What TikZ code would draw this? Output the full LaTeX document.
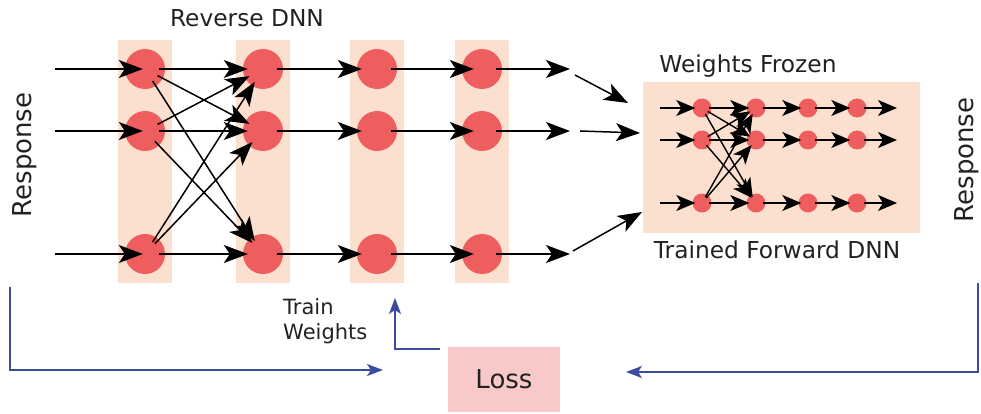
\documentclass[tikz,border=0pt]{standalone}
\usepackage{fontspec}
\setmainfont{DejaVu Sans}
\usetikzlibrary{arrows.meta}
\definecolor{band}{HTML}{FCE0CF}
\definecolor{neuron}{HTML}{EE5E5E}
\definecolor{losspink}{HTML}{F9C8C8}
\definecolor{fblue}{HTML}{3B4B9E}
\definecolor{txt}{HTML}{222222}
\begin{document}
\begin{tikzpicture}[x=1pt,y=-1pt,
 bandbox/.style={fill=band,draw=none},
 bigneuron/.style={circle,fill=neuron,draw=none,minimum size=40pt,inner sep=0pt},
 smallneuron/.style={circle,fill=neuron,draw=none,minimum size=19pt,inner sep=0pt},
 bigtip/.style={-{Stealth[length=24pt,width=18pt,inset=6pt]}},
 arr/.style={bigtip,line width=1.5pt,black,shorten >=-5pt,shorten <=-6pt},
 farr/.style={-{Stealth[length=19pt,width=16pt,inset=5pt]},line width=1.4pt,black,shorten >=-3pt,shorten <=-3pt},
 barr/.style={-{Stealth[length=16pt,width=12pt,inset=4pt]},line width=1.6pt,fblue},
 lbl/.style={font=\fontsize{23.3}{26}\selectfont,text=txt,inner sep=0pt},
 resp/.style={font=\fontsize{26}{28}\selectfont,text=txt,inner sep=0pt,rotate=90}]
\useasboundingbox (0,0) rectangle (981,414);
% bands
\foreach \x/\n in {145/1,263/2,377/3,482/4}
  \fill[band] (\x-27,40) rectangle (\x+27,283);
\node[fill=band,minimum width=277pt,minimum height=151pt,inner sep=0pt] (fbox) at (781.5,157.5) {};
% reverse neurons
\foreach \x/\c in {145/1,263/2,377/3,482/4}
  \foreach \y/\r in {69/1,131/2,254/3}
    \node[bigneuron] (r\c\r) at (\x,\y) {};
% forward neurons
\foreach \x/\c in {702/1,756/2,808/3,857/4}
  \foreach \y/\r in {108/1,140/2,203/3}
    \node[smallneuron] (f\c\r) at (\x,\y) {};
% reverse connections
\foreach \y/\r in {69/1,131/2,254/3}{
  \coordinate (ri\r) at (55,\y);
  \coordinate (ro\r) at (570,\y);
  \draw[arr,shorten <=0pt,shorten >=-18pt] (ri\r) -- (r1\r);
  \draw[arr] (r2\r) -- (r3\r);
  \draw[arr,shorten >=-12pt] (r3\r) -- (r4\r);
  \draw[arr,shorten >=0pt] (r4\r) -- (ro\r);
  \foreach \s in {1,2,3}
    \draw[arr] (r1\r) -- (r2\s);
}
% arrows into the forward DNN
\coordinate (a1) at (575,75);  \coordinate (b1) at (628,103);
\coordinate (a2) at (580,131); \coordinate (b2) at (640,133);
\coordinate (a3) at (573,251); \coordinate (b3) at (642,212);
\foreach \i in {1,2,3}
  \draw[bigtip,line width=1.5pt] (a\i) -- (b\i);
% forward connections
\foreach \y/\r in {108/1,140/2,203/3}{
  \coordinate (fi\r) at (660,\y);
  \coordinate (fo\r) at (897,\y);
  \draw[farr,shorten <=0pt] (fi\r) -- (f1\r);
  \draw[farr] (f2\r) -- (f3\r);
  \draw[farr] (f3\r) -- (f4\r);
  \draw[farr,shorten >=0pt] (f4\r) -- (fo\r);
  \foreach \s in {1,2,3}
    \draw[farr] (f1\r) -- (f2\s);
}
% labels
\node[lbl] (revlbl) at (247,18) {Reverse DNN};
\node[lbl] (frozen) at (748,66) {Weights Frozen};
\node[lbl] (trained) at (777,250) {Trained Forward DNN};
\node[resp] (respL) at (25,155) {Response};
\node[resp] (respR) at (967,160) {Response};
% loss
\node[fill=losspink,minimum width=112pt,minimum height=65pt,inner sep=0pt,
      font=\fontsize{26}{28}\selectfont,text=txt] (loss) at (504,379.5) {Loss};
\node[font=\fontsize{21}{25}\selectfont,text=txt,align=left,anchor=west,inner sep=0pt] (train) at (283,321) {Train\\Weights};
% blue feedback lines
\coordinate (l0) at (10,287);
\coordinate (l1) at (383,370);
\draw[barr] (l0) |- (l1);
\coordinate (q0) at (978,283);
\coordinate (q1) at (626,372);
\draw[barr] (q0) |- (q1);
\coordinate (tw) at (395,298);
\draw[barr] ([xshift=-8pt,yshift=-2pt]loss.north west) -| (tw);
\end{tikzpicture}
\end{document}
